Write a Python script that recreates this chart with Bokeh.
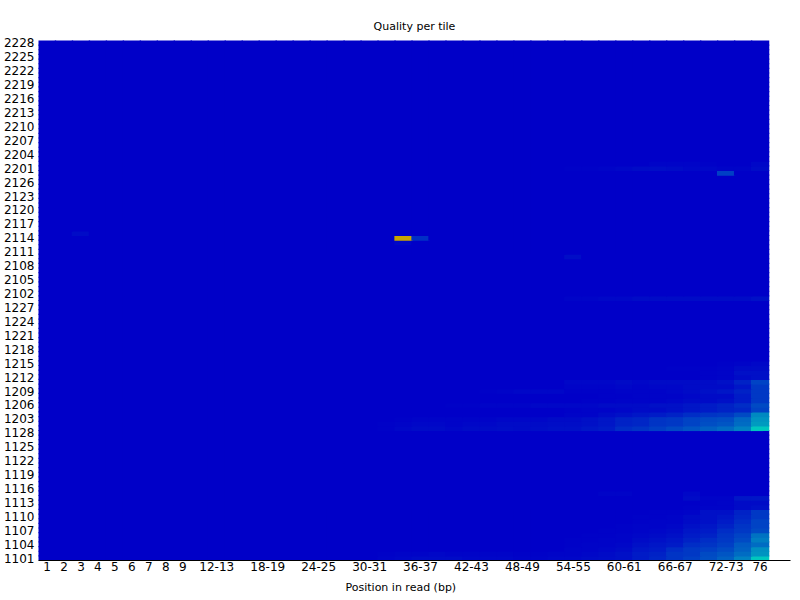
import numpy as np
from bokeh.plotting import figure
from bokeh.models import LinearColorMapper, FixedTicker, Range1d, ColumnDataSource, Title
from bokeh.embed import file_html
from bokeh.resources import INLINE

# ---------------- data ----------------
positions = ["1", "2", "3", "4", "5", "6", "7", "8", "9",
             "10-11", "12-13", "14-15", "16-17", "18-19", "20-21", "22-23", "24-25",
             "26-27", "28-29", "30-31", "32-33", "34-35", "36-37", "38-39", "40-41",
             "42-43", "44-45", "46-47", "48-49", "50-51", "52-53", "54-55", "56-57",
             "58-59", "60-61", "62-63", "64-65", "66-67", "68-69", "70-71", "72-73",
             "74-75", "76"]

tiles = [f"{s}{t:02d}" for s in ("11", "12", "21", "22") for t in range(1, 29)]

x_tick_labels = ["1", "2", "3", "4", "5", "6", "7", "8", "9", "12-13", "18-19", "24-25",
                 "30-31", "36-37", "42-43", "48-49", "54-55", "60-61", "66-67", "72-73", "76"]

y_tick_labels = ["1101", "1104", "1107", "1110", "1113", "1116", "1119", "1122", "1125",
                 "1128", "1203", "1206", "1209", "1212", "1215", "1218", "1221", "1224",
                 "1227", "2102", "2105", "2108", "2111", "2114", "2117", "2120", "2123",
                 "2126", "2201", "2204", "2207", "2210", "2213", "2216", "2219", "2222",
                 "2225", "2228"]

# tails of rows, starting at position "54-55" (12 values, up to "76")
tail_start = "54-55"
t1101 = [0.15, 0.2, 0.25, 0.3, 0.5, 0.7, 0.9, 1.1, 1.4, 1.7, 2.3, 3.5]
t1102 = [0.1, 0.15, 0.2, 0.3, 0.5, 0.6, 0.9, 1.0, 1.3, 1.5, 1.9, 2.6]
t1103 = [0.1, 0.1, 0.15, 0.2, 0.4, 0.5, 0.8, 1.0, 1.1, 1.3, 1.7, 2.5]
t1104 = [0.05, 0.1, 0.1, 0.15, 0.3, 0.4, 0.5, 0.8, 0.9, 1.1, 1.6, 1.9]
t1105 = [0.05, 0.05, 0.1, 0.1, 0.2, 0.3, 0.4, 0.6, 0.8, 1.0, 1.3, 2.2]
t1106 = [0.0, 0.05, 0.05, 0.1, 0.15, 0.2, 0.3, 0.5, 0.6, 0.9, 1.2, 2.0]
t1107 = [0.0, 0.0, 0.05, 0.05, 0.1, 0.15, 0.2, 0.4, 0.5, 0.8, 1.0, 1.3]
t1108 = [0.0, 0.0, 0.0, 0.05, 0.1, 0.1, 0.15, 0.3, 0.4, 0.6, 0.9, 1.2]
t1109 = [0.0, 0.0, 0.0, 0.0, 0.05, 0.1, 0.1, 0.2, 0.3, 0.5, 0.8, 1.2]
t1110 = [0.0, 0.0, 0.0, 0.0, 0.05, 0.05, 0.1, 0.2, 0.3, 0.4, 0.7, 1.0]
t1111 = [0.0, 0.0, 0.0, 0.0, 0.0, 0.05, 0.05, 0.1, 0.3, 0.3, 0.6, 1.0]
t1112 = [0.0, 0.0, 0.0, 0.0, 0.0, 0.0, 0.0, 0.05, 0.1, 0.1, 0.2, 0.3]
t1113 = [0.0, 0.0, 0.0, 0.0, 0.0, 0.0, 0.0, 0.0, 0.05, 0.1, 0.2, 0.2]
t1114 = [0.0, 0.0, 0.0, 0.0, 0.0, 0.0, 0.0, 0.2, 0.1, 0.1, 0.4, 0.4]
t1115 = [0.0, 0.0, 0.1, 0.1, 0.0, 0.0, 0.0, 0.15, 0.0, 0.0, 0.0, 0.0]

t1201 = [0.3, 0.4, 0.5, 0.8, 0.9, 1.1, 1.3, 1.5, 1.7, 1.9, 2.3, 3.5]
t1202 = [0.25, 0.3, 0.4, 0.6, 0.7, 0.9, 1.0, 1.2, 1.4, 1.5, 1.9, 2.7]
t1203 = [0.2, 0.3, 0.4, 0.6, 0.7, 0.9, 1.0, 1.2, 1.3, 1.4, 1.8, 2.6]
t1204 = [0.1, 0.1, 0.2, 0.3, 0.4, 0.5, 0.6, 0.8, 0.9, 1.0, 1.3, 2.4]
t1205 = [0.05, 0.1, 0.1, 0.15, 0.2, 0.2, 0.3, 0.4, 0.5, 0.6, 0.7, 1.2]
t1206 = [0.15, 0.15, 0.2, 0.2, 0.2, 0.3, 0.3, 0.4, 0.5, 0.6, 0.8, 1.3]
t1207 = [0.0, 0.05, 0.05, 0.1, 0.1, 0.1, 0.15, 0.2, 0.2, 0.3, 0.5, 1.0]
t1208 = [0.0, 0.0, 0.05, 0.05, 0.1, 0.1, 0.1, 0.15, 0.2, 0.2, 0.5, 1.0]
t1209 = [0.05, 0.05, 0.05, 0.1, 0.1, 0.1, 0.15, 0.2, 0.3, 0.4, 0.6, 1.0]
t1210 = [0.1, 0.1, 0.1, 0.15, 0.1, 0.15, 0.15, 0.2, 0.2, 0.2, 0.4, 1.0]
t1211 = [0.15, 0.15, 0.15, 0.2, 0.15, 0.2, 0.2, 0.2, 0.2, 0.3, 0.6, 1.2]
t1212 = [0.0, 0.0, 0.0, 0.0, 0.0, 0.0, 0.0, 0.0, 0.05, 0.1, 0.2, 0.3]
t1213 = [0.0, 0.0, 0.0, 0.0, 0.0, 0.0, 0.0, 0.0, 0.05, 0.1, 0.3, 0.3]
t1214 = [0.0, 0.0, 0.0, 0.0, 0.0, 0.0, 0.05, 0.05, 0.05, 0.1, 0.2, 0.2]
t1215 = [0.0, 0.0, 0.0, 0.0, 0.0, 0.0, 0.0, 0.0, 0.0, 0.05, 0.1, 0.15]

t2101 = [0.1, 0.1, 0.15, 0.15, 0.2, 0.2, 0.2, 0.2, 0.2, 0.2, 0.2, 0.3]
t2201 = [0.05, 0.05, 0.1, 0.15, 0.2, 0.25, 0.2, 0.15, 0.15, 0.1, 0.1, 0.2]
t2202 = [0.0, 0.0, 0.0, 0.0, 0.0, 0.1, 0.1, 0.1, 0.05, 0.0, 0.0, 0.15]

# middle bands, starting at position "32-33" (11 values, up to "52-53")
mid_start = "32-33"
m1201 = [0.05, 0.15, 0.2, 0.2, 0.15, 0.2, 0.2, 0.25, 0.2, 0.25, 0.3]
m1202 = [0.05, 0.1, 0.15, 0.15, 0.1, 0.15, 0.15, 0.2, 0.2, 0.2, 0.25]
m1203 = [0.0, 0.05, 0.1, 0.1, 0.1, 0.1, 0.1, 0.15, 0.15, 0.15, 0.2]
m1206 = [0.0, 0.0, 0.0, 0.0, 0.05, 0.05, 0.1, 0.1, 0.1, 0.15, 0.15]
m1209 = [0.0, 0.0, 0.0, 0.0, 0.0, 0.0, 0.05, 0.1, 0.15, 0.15, 0.15]
m1101 = [0.1, 0.15, 0.2, 0.2, 0.2, 0.15, 0.15, 0.15, 0.1, 0.1, 0.15]
m1102 = [0.05, 0.1, 0.1, 0.15, 0.1, 0.1, 0.1, 0.1, 0.05, 0.05, 0.1]

# isolated cells
spot_tiles = ["2114", "2114", "2113", "2128", "2110", "2115"]
spot_positions = ["34-35", "36-37", "34-35", "72-73", "54-55", "3"]
spot_values = [7.5, 0.85, 0.15, 1.1, 0.25, 0.2]

# ---------------- build grid ----------------
grid = np.zeros((len(tiles), len(positions)))


def put(tile, start, vals):
    i = tiles.index(tile)
    j = positions.index(start)
    grid[i, j:j + len(vals)] = vals


for name, vals in [("1101", t1101), ("1102", t1102), ("1103", t1103), ("1104", t1104),
                   ("1105", t1105), ("1106", t1106), ("1107", t1107), ("1108", t1108),
                   ("1109", t1109), ("1110", t1110), ("1111", t1111), ("1112", t1112),
                   ("1113", t1113), ("1114", t1114), ("1115", t1115),
                   ("1201", t1201), ("1202", t1202), ("1203", t1203), ("1204", t1204),
                   ("1205", t1205), ("1206", t1206), ("1207", t1207), ("1208", t1208),
                   ("1209", t1209), ("1210", t1210), ("1211", t1211), ("1212", t1212),
                   ("1213", t1213), ("1214", t1214), ("1215", t1215),
                   ("2101", t2101), ("2201", t2201), ("2202", t2202)]:
    put(name, tail_start, vals)

for name, vals in [("1201", m1201), ("1202", m1202), ("1203", m1203), ("1206", m1206),
                   ("1209", m1209), ("1101", m1101), ("1102", m1102)]:
    put(name, mid_start, vals)

for t, pos, v in zip(spot_tiles, spot_positions, spot_values):
    put(t, pos, [v])

xs, ys, vs = [], [], []
for i in range(len(tiles)):
    for j in range(len(positions)):
        xs.append(j)
        ys.append(i)
        vs.append(float(grid[i, j]))
src = ColumnDataSource(dict(x=xs, y=ys, v=vs))

# ---------------- colour map (blue -> cyan -> green -> yellow -> red) ----------------
anchors = [(0.0, (0, 0, 200)), (3.5, (0, 200, 190)), (5.0, (0, 200, 0)),
           (7.0, (200, 200, 0)), (10.0, (200, 0, 0))]
palette = []
for k in range(256):
    val = 10.0 * k / 255
    for (a, ca), (b, cb) in zip(anchors[:-1], anchors[1:]):
        if a <= val <= b:
            f = (val - a) / (b - a)
            c = [int(round(ca[n] + f * (cb[n] - ca[n]))) for n in range(3)]
            break
    palette.append("#%02x%02x%02x" % tuple(c))
mapper = LinearColorMapper(palette=palette, low=0, high=10)

# ---------------- figure ----------------
FONT = "DejaVu Sans"
p = figure(width=800, height=600, output_backend="svg", toolbar_location=None,
           x_range=Range1d(-0.5, 43.79), y_range=Range1d(-0.5, 111.5),
           min_border_left=37, min_border_right=10, min_border_top=40, min_border_bottom=40)

p.rect(x="x", y="y", width=1.08, height=1.25, source=src,
       fill_color={"field": "v", "transform": mapper}, line_color=None)

p.title.text = "Quality per tile"
p.title.align = "center"
p.title.text_font = FONT
p.title.text_font_size = "11px"
p.title.text_font_style = "normal"
p.title.text_color = "black"
p.title.standoff = 16

p.xgrid.grid_line_color = None
p.ygrid.grid_line_color = None
p.outline_line_color = None
p.background_fill_color = "white"
p.border_fill_color = "white"

xt = [positions.index(lab) for lab in x_tick_labels]
p.xaxis.ticker = FixedTicker(ticks=xt)
p.xaxis.major_label_overrides = {j: positions[j] for j in xt}
p.xaxis.major_tick_out = 0
p.xaxis.major_tick_in = 0
p.xaxis.minor_tick_line_color = None
p.xaxis.axis_line_color = "black"
p.xaxis.axis_line_width = 1
p.xaxis.major_label_standoff = 1
p.xaxis.major_label_text_font = FONT
p.xaxis.major_label_text_font_size = "12px"
p.xaxis.major_label_text_color = "black"

yt = [tiles.index(lab) for lab in y_tick_labels]
p.yaxis.ticker = FixedTicker(ticks=yt)
p.yaxis.major_label_overrides = {i: tiles[i] for i in yt}
p.yaxis.major_tick_out = 0
p.yaxis.major_tick_in = 0
p.yaxis.minor_tick_line_color = None
p.yaxis.axis_line_color = None
p.yaxis.major_label_standoff = 4
p.yaxis.major_label_text_font = FONT
p.yaxis.major_label_text_font_size = "12px"
p.yaxis.major_label_text_color = "black"

xlabel = Title(text="Position in read (bp)", align="left", offset=307,
               text_font=FONT, text_font_size="11px", text_font_style="normal",
               text_color="black", standoff=11)
p.add_layout(xlabel, "below")

open("out.html", "w").write(file_html(p, INLINE))
